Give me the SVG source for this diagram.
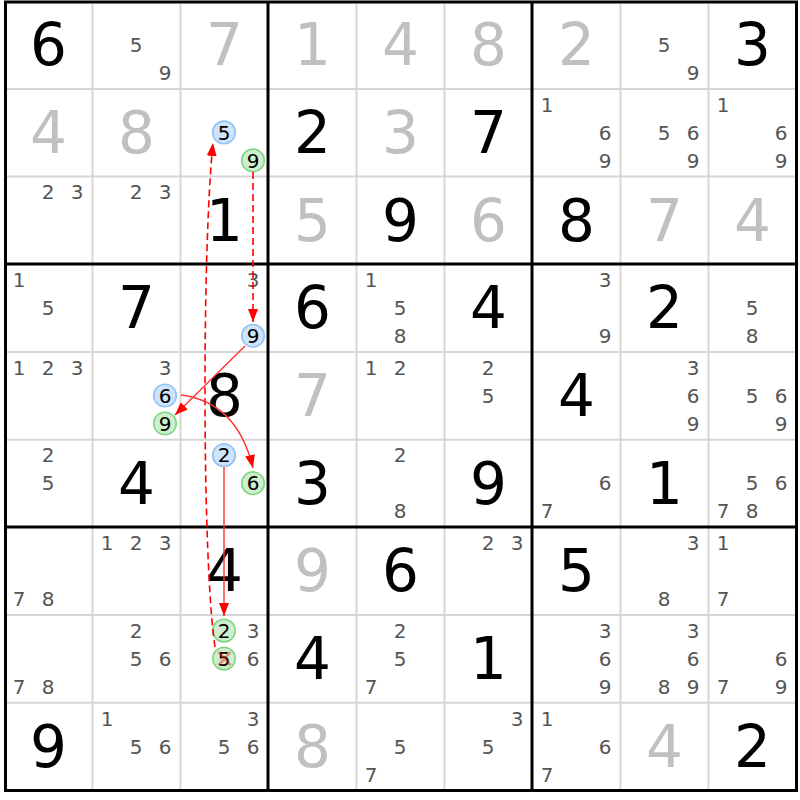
<svg xmlns="http://www.w3.org/2000/svg" width="800" height="800" viewBox="0 0 800 800">
<style>
text{font-family:"DejaVu Sans","Verdana",sans-serif;text-anchor:middle}
.g{font-size:58px;fill:#000}
.s{font-size:58px;fill:#c0c0c0}
.c{font-size:20px;fill:#555}
.k{font-size:20px;fill:#000}
.thin{stroke:#d6d6d6;stroke-width:2}
.thick{stroke:#000;stroke-width:3}
.cb{fill:#cfe3fb;stroke:#93c3f3;stroke-width:1.6}
.cg{fill:#cdefcd;stroke:#84d684;stroke-width:1.6}
.dash{fill:none;stroke:#f00;stroke-width:1.6;stroke-dasharray:7,4}
.sol{fill:none;stroke:#f33;stroke-width:1.4}
</style>
<defs>
<marker id="ah" markerUnits="userSpaceOnUse" markerWidth="13" markerHeight="10" refX="13" refY="5" orient="auto" viewBox="0 0 13 10">
<path d="M0,0 L13,5 L0,10 Z" fill="#f00"/>
</marker>
</defs>
<rect x="0" y="0" width="800" height="800" fill="#fff"/>
<g id="grid">
<line class="thin" x1="92.5" y1="1" x2="92.5" y2="791"/>
<line class="thin" x1="180.5" y1="1" x2="180.5" y2="791"/>
<line class="thin" x1="356.5" y1="1" x2="356.5" y2="791"/>
<line class="thin" x1="444.5" y1="1" x2="444.5" y2="791"/>
<line class="thin" x1="620.5" y1="1" x2="620.5" y2="791"/>
<line class="thin" x1="708.5" y1="1" x2="708.5" y2="791"/>
<line class="thin" x1="4" y1="88.9" x2="797" y2="88.9"/>
<line class="thin" x1="4" y1="176.6" x2="797" y2="176.6"/>
<line class="thin" x1="4" y1="352" x2="797" y2="352"/>
<line class="thin" x1="4" y1="439.7" x2="797" y2="439.7"/>
<line class="thin" x1="4" y1="615.1" x2="797" y2="615.1"/>
<line class="thin" x1="4" y1="702.8" x2="797" y2="702.8"/>
<line class="thick" x1="268" y1="1" x2="268" y2="791"/>
<line class="thick" x1="532" y1="1" x2="532" y2="791"/>
<line class="thick" x1="4" y1="264" x2="797" y2="264"/>
<line class="thick" x1="4" y1="527" x2="797" y2="527"/>
<rect class="thick" x="5.5" y="2" width="791" height="788.5" fill="none"/>
</g>
<g id="r1c1" transform="translate(4.5,1.2)"><text class="g" x="44" y="64">6</text></g>
<g id="r1c2" transform="translate(92.5,1.2)"><text class="c" x="43.5" y="50.8">5</text><text class="c" x="72.5" y="78.8">9</text></g>
<g id="r1c3" transform="translate(180.5,1.2)"><text class="s" x="44" y="64">7</text></g>
<g id="r1c4" transform="translate(268.5,1.2)"><text class="s" x="44" y="64">1</text></g>
<g id="r1c5" transform="translate(356.5,1.2)"><text class="s" x="44" y="64">4</text></g>
<g id="r1c6" transform="translate(444.5,1.2)"><text class="s" x="44" y="64">8</text></g>
<g id="r1c7" transform="translate(532.5,1.2)"><text class="s" x="44" y="64">2</text></g>
<g id="r1c8" transform="translate(620.5,1.2)"><text class="c" x="43.5" y="50.8">5</text><text class="c" x="72.5" y="78.8">9</text></g>
<g id="r1c9" transform="translate(708.5,1.2)"><text class="g" x="44" y="64">3</text></g>

<g id="r2c1" transform="translate(4.5,88.9)"><text class="s" x="44" y="64">4</text></g>
<g id="r2c2" transform="translate(92.5,88.9)"><text class="s" x="44" y="64">8</text></g>
<g id="r2c3" transform="translate(180.5,88.9)"><circle class="cb" cx="43.5" cy="43.5" r="11.3"/><text class="k" x="43.5" y="50.8">5</text><circle class="cg" cx="72.5" cy="71.5" r="11.3"/><text class="k" x="72.5" y="78.8">9</text></g>
<g id="r2c4" transform="translate(268.5,88.9)"><text class="g" x="44" y="64">2</text></g>
<g id="r2c5" transform="translate(356.5,88.9)"><text class="s" x="44" y="64">3</text></g>
<g id="r2c6" transform="translate(444.5,88.9)"><text class="g" x="44" y="64">7</text></g>
<g id="r2c7" transform="translate(532.5,88.9)"><text class="c" x="14.5" y="22.8">1</text><text class="c" x="72.5" y="50.8">6</text><text class="c" x="72.5" y="78.8">9</text></g>
<g id="r2c8" transform="translate(620.5,88.9)"><text class="c" x="43.5" y="50.8">5</text><text class="c" x="72.5" y="50.8">6</text><text class="c" x="72.5" y="78.8">9</text></g>
<g id="r2c9" transform="translate(708.5,88.9)"><text class="c" x="14.5" y="22.8">1</text><text class="c" x="72.5" y="50.8">6</text><text class="c" x="72.5" y="78.8">9</text></g>

<g id="r3c1" transform="translate(4.5,176.6)"><text class="c" x="43.5" y="22.8">2</text><text class="c" x="72.5" y="22.8">3</text></g>
<g id="r3c2" transform="translate(92.5,176.6)"><text class="c" x="43.5" y="22.8">2</text><text class="c" x="72.5" y="22.8">3</text></g>
<g id="r3c3" transform="translate(180.5,176.6)"><text class="g" x="44" y="64">1</text></g>
<g id="r3c4" transform="translate(268.5,176.6)"><text class="s" x="44" y="64">5</text></g>
<g id="r3c5" transform="translate(356.5,176.6)"><text class="g" x="44" y="64">9</text></g>
<g id="r3c6" transform="translate(444.5,176.6)"><text class="s" x="44" y="64">6</text></g>
<g id="r3c7" transform="translate(532.5,176.6)"><text class="g" x="44" y="64">8</text></g>
<g id="r3c8" transform="translate(620.5,176.6)"><text class="s" x="44" y="64">7</text></g>
<g id="r3c9" transform="translate(708.5,176.6)"><text class="s" x="44" y="64">4</text></g>

<g id="r4c1" transform="translate(4.5,264.3)"><text class="c" x="14.5" y="22.8">1</text><text class="c" x="43.5" y="50.8">5</text></g>
<g id="r4c2" transform="translate(92.5,264.3)"><text class="g" x="44" y="64">7</text></g>
<g id="r4c3" transform="translate(180.5,264.3)"><text class="c" x="72.5" y="22.8">3</text><circle class="cb" cx="72.5" cy="71.5" r="11.3"/><text class="k" x="72.5" y="78.8">9</text></g>
<g id="r4c4" transform="translate(268.5,264.3)"><text class="g" x="44" y="64">6</text></g>
<g id="r4c5" transform="translate(356.5,264.3)"><text class="c" x="14.5" y="22.8">1</text><text class="c" x="43.5" y="50.8">5</text><text class="c" x="43.5" y="78.8">8</text></g>
<g id="r4c6" transform="translate(444.5,264.3)"><text class="g" x="44" y="64">4</text></g>
<g id="r4c7" transform="translate(532.5,264.3)"><text class="c" x="72.5" y="22.8">3</text><text class="c" x="72.5" y="78.8">9</text></g>
<g id="r4c8" transform="translate(620.5,264.3)"><text class="g" x="44" y="64">2</text></g>
<g id="r4c9" transform="translate(708.5,264.3)"><text class="c" x="43.5" y="50.8">5</text><text class="c" x="43.5" y="78.8">8</text></g>

<g id="r5c1" transform="translate(4.5,352)"><text class="c" x="14.5" y="22.8">1</text><text class="c" x="43.5" y="22.8">2</text><text class="c" x="72.5" y="22.8">3</text></g>
<g id="r5c2" transform="translate(92.5,352)"><text class="c" x="72.5" y="22.8">3</text><circle class="cb" cx="72.5" cy="43.5" r="11.3"/><text class="k" x="72.5" y="50.8">6</text><circle class="cg" cx="72.5" cy="71.5" r="11.3"/><text class="k" x="72.5" y="78.8">9</text></g>
<g id="r5c3" transform="translate(180.5,352)"><text class="g" x="44" y="64">8</text></g>
<g id="r5c4" transform="translate(268.5,352)"><text class="s" x="44" y="64">7</text></g>
<g id="r5c5" transform="translate(356.5,352)"><text class="c" x="14.5" y="22.8">1</text><text class="c" x="43.5" y="22.8">2</text></g>
<g id="r5c6" transform="translate(444.5,352)"><text class="c" x="43.5" y="22.8">2</text><text class="c" x="43.5" y="50.8">5</text></g>
<g id="r5c7" transform="translate(532.5,352)"><text class="g" x="44" y="64">4</text></g>
<g id="r5c8" transform="translate(620.5,352)"><text class="c" x="72.5" y="22.8">3</text><text class="c" x="72.5" y="50.8">6</text><text class="c" x="72.5" y="78.8">9</text></g>
<g id="r5c9" transform="translate(708.5,352)"><text class="c" x="43.5" y="50.8">5</text><text class="c" x="72.5" y="50.8">6</text><text class="c" x="72.5" y="78.8">9</text></g>

<g id="r6c1" transform="translate(4.5,439.7)"><text class="c" x="43.5" y="22.8">2</text><text class="c" x="43.5" y="50.8">5</text></g>
<g id="r6c2" transform="translate(92.5,439.7)"><text class="g" x="44" y="64">4</text></g>
<g id="r6c3" transform="translate(180.5,439.7)"><circle class="cb" cx="43.5" cy="15.5" r="11.3"/><text class="k" x="43.5" y="22.8">2</text><circle class="cg" cx="72.5" cy="43.5" r="11.3"/><text class="k" x="72.5" y="50.8">6</text></g>
<g id="r6c4" transform="translate(268.5,439.7)"><text class="g" x="44" y="64">3</text></g>
<g id="r6c5" transform="translate(356.5,439.7)"><text class="c" x="43.5" y="22.8">2</text><text class="c" x="43.5" y="78.8">8</text></g>
<g id="r6c6" transform="translate(444.5,439.7)"><text class="g" x="44" y="64">9</text></g>
<g id="r6c7" transform="translate(532.5,439.7)"><text class="c" x="72.5" y="50.8">6</text><text class="c" x="14.5" y="78.8">7</text></g>
<g id="r6c8" transform="translate(620.5,439.7)"><text class="g" x="44" y="64">1</text></g>
<g id="r6c9" transform="translate(708.5,439.7)"><text class="c" x="43.5" y="50.8">5</text><text class="c" x="72.5" y="50.8">6</text><text class="c" x="14.5" y="78.8">7</text><text class="c" x="43.5" y="78.8">8</text></g>

<g id="r7c1" transform="translate(4.5,527.4)"><text class="c" x="14.5" y="78.8">7</text><text class="c" x="43.5" y="78.8">8</text></g>
<g id="r7c2" transform="translate(92.5,527.4)"><text class="c" x="14.5" y="22.8">1</text><text class="c" x="43.5" y="22.8">2</text><text class="c" x="72.5" y="22.8">3</text></g>
<g id="r7c3" transform="translate(180.5,527.4)"><text class="g" x="44" y="64">4</text></g>
<g id="r7c4" transform="translate(268.5,527.4)"><text class="s" x="44" y="64">9</text></g>
<g id="r7c5" transform="translate(356.5,527.4)"><text class="g" x="44" y="64">6</text></g>
<g id="r7c6" transform="translate(444.5,527.4)"><text class="c" x="43.5" y="22.8">2</text><text class="c" x="72.5" y="22.8">3</text></g>
<g id="r7c7" transform="translate(532.5,527.4)"><text class="g" x="44" y="64">5</text></g>
<g id="r7c8" transform="translate(620.5,527.4)"><text class="c" x="72.5" y="22.8">3</text><text class="c" x="43.5" y="78.8">8</text></g>
<g id="r7c9" transform="translate(708.5,527.4)"><text class="c" x="14.5" y="22.8">1</text><text class="c" x="14.5" y="78.8">7</text></g>

<g id="r8c1" transform="translate(4.5,615.1)"><text class="c" x="14.5" y="78.8">7</text><text class="c" x="43.5" y="78.8">8</text></g>
<g id="r8c2" transform="translate(92.5,615.1)"><text class="c" x="43.5" y="22.8">2</text><text class="c" x="43.5" y="50.8">5</text><text class="c" x="72.5" y="50.8">6</text></g>
<g id="r8c3" transform="translate(180.5,615.1)"><circle class="cg" cx="43.5" cy="15.5" r="11.3"/><text class="k" x="43.5" y="22.8">2</text><text class="c" x="72.5" y="22.8">3</text><circle class="cg" cx="43.5" cy="43.5" r="11.3"/><text class="k" x="43.5" y="50.8">5</text><path d="M38,37 L50,50 M50,37 L38,50" stroke="#f00" stroke-opacity="0.4" stroke-width="2.5" fill="none"/><text class="c" x="72.5" y="50.8">6</text></g>
<g id="r8c4" transform="translate(268.5,615.1)"><text class="g" x="44" y="64">4</text></g>
<g id="r8c5" transform="translate(356.5,615.1)"><text class="c" x="43.5" y="22.8">2</text><text class="c" x="43.5" y="50.8">5</text><text class="c" x="14.5" y="78.8">7</text></g>
<g id="r8c6" transform="translate(444.5,615.1)"><text class="g" x="44" y="64">1</text></g>
<g id="r8c7" transform="translate(532.5,615.1)"><text class="c" x="72.5" y="22.8">3</text><text class="c" x="72.5" y="50.8">6</text><text class="c" x="72.5" y="78.8">9</text></g>
<g id="r8c8" transform="translate(620.5,615.1)"><text class="c" x="72.5" y="22.8">3</text><text class="c" x="72.5" y="50.8">6</text><text class="c" x="43.5" y="78.8">8</text><text class="c" x="72.5" y="78.8">9</text></g>
<g id="r8c9" transform="translate(708.5,615.1)"><text class="c" x="72.5" y="50.8">6</text><text class="c" x="14.5" y="78.8">7</text><text class="c" x="72.5" y="78.8">9</text></g>

<g id="r9c1" transform="translate(4.5,702.8)"><text class="g" x="44" y="64">9</text></g>
<g id="r9c2" transform="translate(92.5,702.8)"><text class="c" x="14.5" y="22.8">1</text><text class="c" x="43.5" y="50.8">5</text><text class="c" x="72.5" y="50.8">6</text></g>
<g id="r9c3" transform="translate(180.5,702.8)"><text class="c" x="72.5" y="22.8">3</text><text class="c" x="43.5" y="50.8">5</text><text class="c" x="72.5" y="50.8">6</text></g>
<g id="r9c4" transform="translate(268.5,702.8)"><text class="s" x="44" y="64">8</text></g>
<g id="r9c5" transform="translate(356.5,702.8)"><text class="c" x="43.5" y="50.8">5</text><text class="c" x="14.5" y="78.8">7</text></g>
<g id="r9c6" transform="translate(444.5,702.8)"><text class="c" x="72.5" y="22.8">3</text><text class="c" x="43.5" y="50.8">5</text></g>
<g id="r9c7" transform="translate(532.5,702.8)"><text class="c" x="14.5" y="22.8">1</text><text class="c" x="72.5" y="50.8">6</text><text class="c" x="14.5" y="78.8">7</text></g>
<g id="r9c8" transform="translate(620.5,702.8)"><text class="s" x="44" y="64">4</text></g>
<g id="r9c9" transform="translate(708.5,702.8)"><text class="g" x="44" y="64">2</text></g>

<g id="connectors">
<path class="dash" d="M215,647 C202,560 202,250 213,143" marker-end="url(#ah)"/>
<path class="dash" d="M253,172 L253,322" marker-end="url(#ah)"/>
<path class="sol" d="M245,346 L175,415" marker-end="url(#ah)"/>
<path class="sol" d="M181,395 Q237,402 253,468" marker-end="url(#ah)"/>
<path class="sol" d="M224,467 L224,616" marker-end="url(#ah)"/>
</g>
</svg>
